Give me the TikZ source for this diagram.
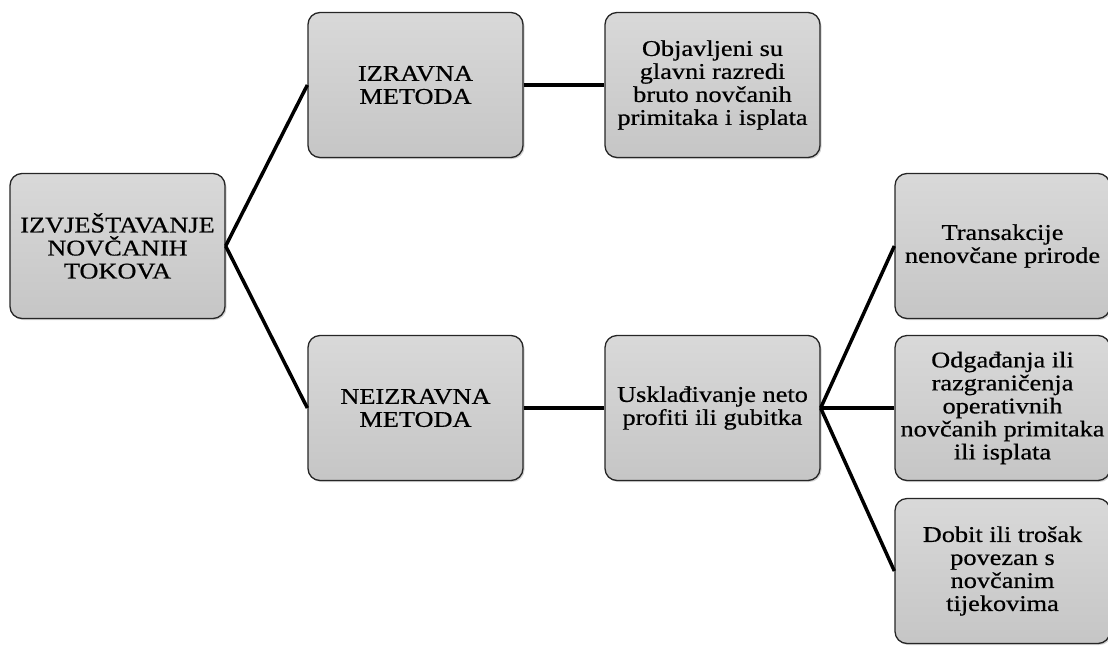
\documentclass[tikz,border=0pt]{standalone}
\usepackage{fontspec}
\setmainfont[FakeStretch=1.17,FakeBold=0.6]{Liberation Serif}
\usetikzlibrary{shadows}
\tikzset{
  box/.style={draw=black!85, line width=1.3pt, rounded corners=12pt,
    minimum width=215pt, minimum height=145pt, inner sep=0pt,
    top color=gray!30, middle color=gray!60, bottom color=gray!45,
    align=center, text=black,
    font=\fontsize{22.5}{23}\selectfont,
    drop shadow={opacity=0.35, shadow xshift=1.5pt, shadow yshift=-1.5pt}},
  link/.style={draw=black, line width=3.5pt}
}
\begin{document}
\begin{tikzpicture}[x=1pt,y=-1pt]
\useasboundingbox (0,0) rectangle (1108,646);
\node[box] (root) at (117.5,246) {IZVJEŠTAVANJE\\NOVČANIH\\TOKOVA};
\node[box] (izr) at (415.5,85) {IZRAVNA\\METODA};
\node[box] (obj) at (712.5,85) {Objavljeni su\\glavni razredi\\bruto novčanih\\primitaka i isplata};
\node[box] (neizr) at (415.5,408) {NEIZRAVNA\\METODA};
\node[box] (usk) at (712.5,408) {Usklađivanje neto\\profiti ili gubitka};
\node[box] (t1) at (1002.5,246) {Transakcije\\nenovčane prirode};
\node[box] (t2) at (1002.5,408) {Odgađanja ili\\razgraničenja\\operativnih\\novčanih primitaka\\ili isplata};
\node[box] (t3) at (1002.5,571) {Dobit ili trošak\\povezan s\\novčanim\\tijekovima};
\draw[link] (root.east) -- (izr.west);
\draw[link] (root.east) -- (neizr.west);
\draw[link] (izr.east) -- (obj.west);
\draw[link] (neizr.east) -- (usk.west);
\draw[link] (usk.east) -- (t1.west);
\draw[link] (usk.east) -- (t2.west);
\draw[link] (usk.east) -- (t3.west);
\end{tikzpicture}
\end{document}
